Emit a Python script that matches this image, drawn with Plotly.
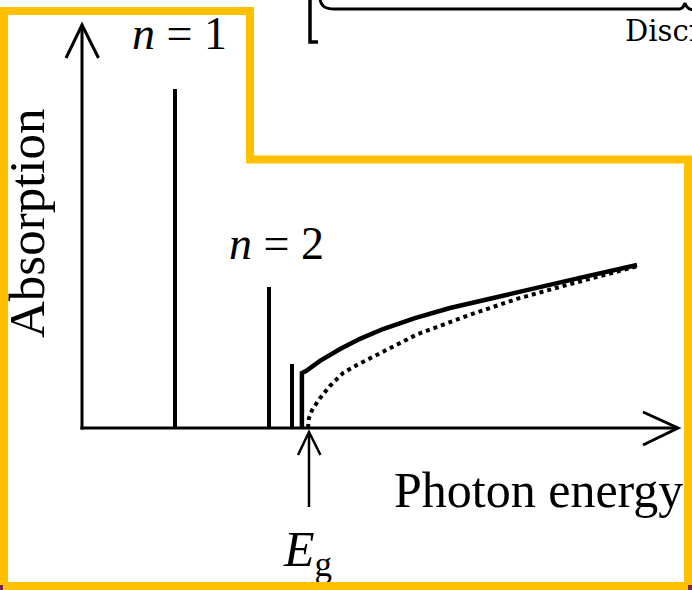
import plotly.graph_objects as go

# ---------------------------------------------------------------------------
# Data: photon energy in units of the band gap E_g, absorption in units of the
# n = 1 exciton peak.
# ---------------------------------------------------------------------------
exciton_labels = ["n = 1", "n = 2", "n = 3"]
exciton_energy = [0.412, 0.827, 0.929]
exciton_absorption = [1.0, 0.416, 0.189]

# continuum absorption including the Coulomb (Sommerfeld) enhancement
with_exciton_energy = [0.973, 0.973, 0.991, 1.053, 1.142, 1.230, 1.332,
                       1.473, 1.628, 1.925, 2.217, 2.456]
with_exciton_absorption = [0.0, 0.162, 0.168, 0.198, 0.233, 0.263, 0.292,
                           0.324, 0.354, 0.401, 0.445, 0.481]

# free electron-hole continuum (square-root band edge)
free_energy = [1.0, 1.004, 1.018, 1.053, 1.097, 1.155, 1.217, 1.261,
               1.482, 1.704, 1.925, 2.146, 2.456]
free_absorption = [0.0, 0.029, 0.053, 0.088, 0.124, 0.162, 0.186, 0.201,
                   0.276, 0.331, 0.381, 0.422, 0.477]

band_gap_energy = 1.0

# ---------------------------------------------------------------------------
# Canvas geometry (pixels)
# ---------------------------------------------------------------------------
W, H = 692, 590
ORIGIN_X, GAP_X = 82, 308      # pixel columns of E = 0 and E = E_g
ORIGIN_Y, PEAK_Y = 428, 89     # pixel rows of absorption 0 and 1
sx = GAP_X - ORIGIN_X
sy = ORIGIN_Y - PEAK_Y
x_range = [-ORIGIN_X / sx, (W - ORIGIN_X) / sx]
y_range = [-(H - ORIGIN_Y) / sy, ORIGIN_Y / sy]

SERIF = "Liberation Serif, Times New Roman, serif"
GOLD = "#FFC000"


def pp(x, y):
    """pixel position -> paper coordinates"""
    return x / W, 1 - y / H


def svg_path(*segments):
    out = []
    for seg in segments:
        cmd = "M"
        for (x, y) in seg:
            u, v = pp(x, y)
            out.append(f"{cmd} {u:.5f},{v:.5f}")
            cmd = "L"
    return " ".join(out)


fig = go.Figure()

# exciton lines
fig.add_trace(go.Bar(
    x=exciton_energy, y=exciton_absorption, width=4.5 / sx,
    marker=dict(color="black", line=dict(width=0)),
    hovertext=exciton_labels, hoverinfo="text",
))

# free-carrier continuum (dotted)
fig.add_trace(go.Scatter(
    x=free_energy, y=free_absorption, mode="lines",
    line=dict(color="black", width=4, dash="4px,4px"),
    hoverinfo="skip",
))

# continuum with excitonic enhancement (solid)
fig.add_trace(go.Scatter(
    x=with_exciton_energy, y=with_exciton_absorption, mode="lines",
    line=dict(color="black", width=4.5),
    hoverinfo="skip",
))

# band-gap label under the marker arrow (kept beneath the gold outline)
fig.add_trace(go.Scatter(
    x=[band_gap_energy], y=[(ORIGIN_Y - 553) / sy], mode="text",
    text=["<i>E</i><sub>g</sub>"], textposition="middle center",
    textfont=dict(family=SERIF, size=50, color="black"),
    cliponaxis=False, hoverinfo="skip",
))

shapes = []


def line_shape(d, width, color="black", layer="above"):
    shapes.append(dict(type="path", path=d, xref="paper", yref="paper",
                       line=dict(color=color, width=width), layer=layer))


# axes with open arrowheads
line_shape(svg_path([(82, 429.5), (82, 26)]), 3)
line_shape(svg_path([(66, 58), (82, 25), (98.5, 58)]), 3)
line_shape(svg_path([(80.5, 428), (677, 428)]), 3)
line_shape(svg_path([(643, 412), (678, 428), (643, 445)]), 3)

# band-gap marker arrow
line_shape(svg_path([(309, 507), (309, 434)]), 2.5)
line_shape(svg_path([(298, 455), (309, 432), (320.5, 455)]), 2.5)

# bracket and brace at the top edge
line_shape(svg_path([(318, 42), (310, 42), (310, -2)]), 3.5)
bx0, by0 = pp(320, -1)
bx1, by1 = pp(321, 6)
bx2, by2 = pp(325, 9)
bx3, by3 = pp(334, 9)
bx4, by4 = pp(679, 9)
bx5, by5 = pp(683, 9)
bx6, by6 = pp(685, 3)
bx7, by7 = pp(686, 9)
bx8, by8 = pp(693, 10)
shapes.append(dict(
    type="path", xref="paper", yref="paper", layer="above",
    path=(f"M {bx0},{by0} C {bx1},{by1} {bx2},{by2} {bx3},{by3} "
          f"L {bx4},{by4} C {bx5},{by5} {bx6},{by6} {bx6},{by6} "
          f"C {bx6},{by6} {bx7},{by7} {bx8},{by8}"),
    line=dict(color="black", width=3)))

# gold outline
gold = svg_path([(4, 11), (250, 11), (250, 159.5), (688, 159.5),
                 (688, 586), (4, 586), (4, 11)])
shapes.append(dict(type="path", path=gold + " Z", xref="paper", yref="paper",
                   line=dict(color=GOLD, width=8), layer="above"))

# small dark marks at the lower corners
for (xa, xb) in [(0, 3), (688, 692)]:
    u0, v0 = pp(xa, 590)
    u1, v1 = pp(xb, 585)
    shapes.append(dict(type="rect", xref="paper", yref="paper",
                       x0=u0, x1=u1, y0=v0, y1=v1, layer="above",
                       fillcolor="#7A2550", line=dict(width=0)))

annotations = []


def label(text, x, y, size, xanchor="center", yanchor="middle", angle=0,
          family=SERIF):
    u, v = pp(x, y)
    annotations.append(dict(
        text=text, x=u, y=v, xref="paper", yref="paper", showarrow=False,
        xanchor=xanchor, yanchor=yanchor, textangle=angle,
        font=dict(family=family, size=size, color="black")))


label("<i>n</i> = 1", 179, 33, 46)
label("<i>n</i> = 2", 276, 244, 46)
label("Absorption", 27, 223, 51, angle=-90)
label("Photon energy", 538, 490, 50)
label("Discrete", 623, 31, 29, xanchor="left",
      family="DejaVu Serif, serif")

fig.update_layout(
    width=W, height=H,
    margin=dict(l=0, r=0, t=0, b=0),
    paper_bgcolor="white", plot_bgcolor="white",
    showlegend=False,
    xaxis=dict(range=x_range, visible=False, fixedrange=True),
    yaxis=dict(range=y_range, visible=False, fixedrange=True),
    shapes=shapes, annotations=annotations,
    bargap=0,
)

fig.write_html("out.html")
